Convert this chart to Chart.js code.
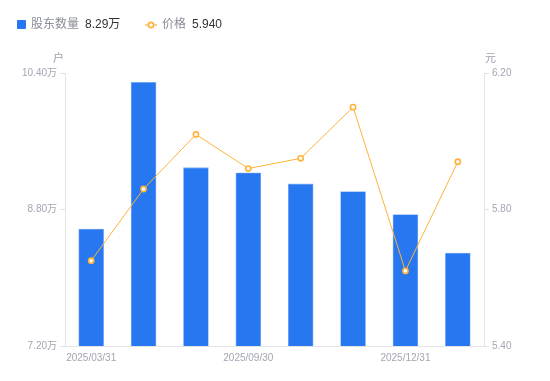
<!DOCTYPE html>
<html>
<head>
<meta charset="utf-8">
<script src="https://cdn.jsdelivr.net/npm/chart.js@4.4.1/dist/chart.umd.min.js"></script>
<style>
  html, body { margin: 0; padding: 0; background: #fff; }
  #wrap { position: relative; width: 550px; height: 381px; font-family: "Liberation Sans", "Noto Sans CJK SC", sans-serif; }
  canvas { position: absolute; left: 0; top: 0; }
  .lg { position: absolute; top: 16px; font-size: 12px; line-height: 17px; white-space: nowrap; }
  .lab { color: #8a8d99; }
  .val { color: #333; margin-left: 6px; }
  .sq { position: absolute; left: 17px; top: 20px; width: 9px; height: 9px; background: #2677f0; border-radius: 1px; }
  .ax { position: absolute; font-size: 11px; color: #9ea0ae; }
</style>
</head>
<body>
<div id="wrap">
  <canvas id="c" width="550" height="381"></canvas>
  <div class="sq"></div>
  <div class="lg" style="left:31px"><span class="lab">股东数量</span><span class="val">8.29万</span></div>
  <svg style="position:absolute;left:145px;top:19px" width="12" height="12">
    <line x1="0" y1="6" x2="12" y2="6" stroke="#ffb23a" stroke-width="1.2"/>
    <circle cx="6" cy="6" r="2.6" fill="#fff" stroke="#ffb23a" stroke-width="1.6"/>
  </svg>
  <div class="lg" style="left:162px"><span class="lab">价格</span><span class="val">5.940</span></div>
  <div class="ax" style="left:53px;top:49px">户</div>
  <div class="ax" style="left:485px;top:49px">元</div>
</div>
<script>
const categories = ["2025/03/31","2025/06/30","2025/08/31","2025/09/30","2025/10/31","2025/11/30","2025/12/31","2026/01/20"];
const holders = [8.57, 10.29, 9.29, 9.23, 9.10, 9.01, 8.74, 8.29];
const prices = [5.65, 5.86, 6.02, 5.92, 5.95, 6.10, 5.62, 5.94];
const leftTicks = [7.20, 8.80, 10.40];
const rightTicks = [5.40, 5.80, 6.20];

const axisColor = '#e3e3e6';
const tickFont = { size: 10, family: '"Liberation Sans", "Noto Sans CJK SC", sans-serif' };
const tickColor = '#a3a5b3';

new Chart(document.getElementById('c'), {
  data: {
    labels: categories,
    datasets: [
      {
        type: 'line', label: '价格', data: prices, yAxisID: 'y1',
        borderColor: '#ffb23a', borderWidth: 1, tension: 0,
        pointRadius: 2.6, pointBorderWidth: 1.6, pointBackgroundColor: '#fff', pointBorderColor: '#ffb23a',
        order: 0
      },
      {
        type: 'bar', label: '股东数量', data: holders, yAxisID: 'y',
        backgroundColor: '#2677f0', borderColor: '#8ab4f6', borderWidth: 0.8,
        barThickness: 25, order: 1
      }
    ]
  },
  options: {
    responsive: false, animation: false,
    layout: { padding: { top: 73, left: 0, right: 0, bottom: 0 } },
    plugins: { legend: { display: false }, tooltip: { enabled: false } },
    scales: {
      x: {
        grid: { display: false, drawTicks: false },
        border: { color: axisColor },
        ticks: {
          autoSkip: false, maxRotation: 0, padding: 6, color: tickColor, font: tickFont,
          callback: function(v, i) { return i % 3 === 0 ? categories[i] : ''; }
        },
        afterFit: s => { s.height = 35; }
      },
      y: {
        position: 'left', min: 7.2, max: 10.4,
        grid: { drawOnChartArea: false, drawTicks: true, tickLength: 5, tickColor: axisColor },
        border: { color: axisColor },
        afterBuildTicks: s => { s.ticks = leftTicks.map(v => ({ value: v })); },
        ticks: { color: tickColor, font: tickFont, padding: 3, callback: v => v.toFixed(2) + '万' },
        afterFit: s => { s.width = 65; }
      },
      y1: {
        position: 'right', min: 5.4, max: 6.2,
        grid: { drawOnChartArea: false, drawTicks: true, tickLength: 5, tickColor: axisColor },
        border: { color: axisColor },
        afterBuildTicks: s => { s.ticks = rightTicks.map(v => ({ value: v })); },
        ticks: { color: tickColor, font: tickFont, padding: 3, callback: v => v.toFixed(2) },
        afterFit: s => { s.width = 66; }
      }
    }
  }
});
</script>
</body>
</html>
